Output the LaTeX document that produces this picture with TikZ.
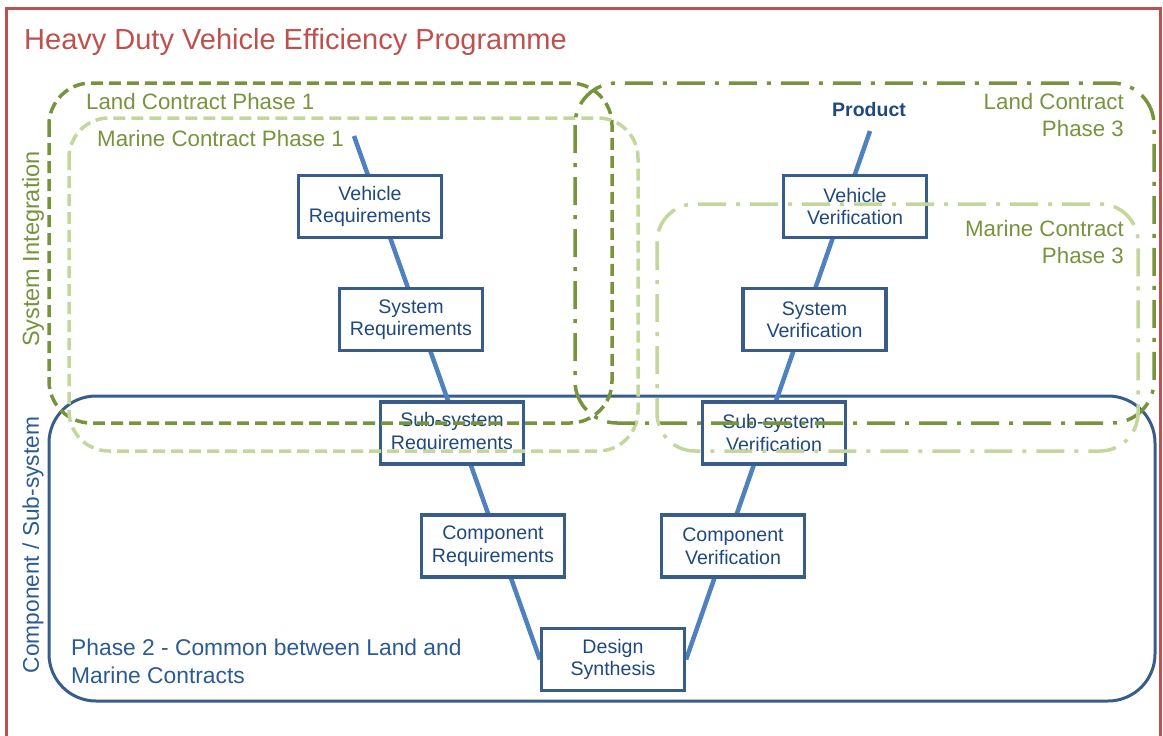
\documentclass[tikz,border=0pt]{standalone}
\usepackage{fontspec}
\setmainfont{Liberation Sans}
\usetikzlibrary{backgrounds}
\definecolor{frame}{HTML}{C0504D}
\definecolor{olivedk}{HTML}{77933C}
\definecolor{olivelt}{HTML}{C3D69B}
\definecolor{boxblue}{HTML}{385D8A}
\definecolor{textblue}{HTML}{1F497D}
\definecolor{lineblue}{HTML}{4F81BD}
\definecolor{labblue}{HTML}{2C5A94}
\begin{document}
\begin{tikzpicture}[x=1pt,y=-1pt,
  vbox/.style={draw=boxblue, line width=3.2pt, fill=white, minimum width=143pt,
    minimum height=62pt, inner sep=0pt, align=center, text=textblue,
    font=\fontsize{19.6}{22.5}\selectfont},
  vline/.style={draw=lineblue, line width=4.5pt},
  landone/.style={draw=olivedk, line width=3.5pt, dash pattern=on 12pt off 6pt, rounded corners=42pt},
  marineone/.style={draw=olivelt, line width=3.5pt, dash pattern=on 12pt off 6pt, rounded corners=40pt},
  landthree/.style={draw=olivedk, line width=3.5pt, dash pattern=on 28pt off 10pt on 4pt off 10pt, rounded corners=42pt},
  marinethree/.style={draw=olivelt, line width=3.5pt, dash pattern=on 28pt off 10pt on 4pt off 10pt, rounded corners=38pt},
  contlabel/.style={text=olivedk, font=\fontsize{22.3}{27}\selectfont, inner sep=0pt},
  sidelabel/.style={rotate=90, inner sep=0pt}
]
\useasboundingbox (0,0) rectangle (1163,736);
% title
\node[anchor=west, text=frame, font=\fontsize{29}{33}\selectfont, inner sep=0pt] (title) at (24,42) {Heavy Duty Vehicle Efficiency Programme};
% side labels
\node[sidelabel, text=olivedk, font=\fontsize{23.5}{26}\selectfont] (si) at (33,249) {System Integration};
\node[sidelabel, text=labblue, font=\fontsize{22.7}{26}\selectfont] (cs) at (33,545) {Component / Sub-system};
% phase 2 text
\node[anchor=west, align=left, text=labblue, font=\fontsize{22.8}{28}\selectfont, inner sep=0pt] (p2) at (71,661) {Phase 2 - Common between Land and\\Marine Contracts};
% product label and start of left leg
\node[text=textblue, font=\bfseries\fontsize{19.5}{22}\selectfont, inner sep=0pt] (prod) at (869,110) {Product};
\coordinate (ls) at (354,136);
\coordinate (rs) at (870,131);
% V boxes
\node[vbox] (vr) at (370,206.5) {Vehicle\\Requirements};
\node[vbox] (sr) at (411,319.5) {System\\Requirements};
\node[vbox] (ssr) at (452,433) {Sub-system\\Requirements};
\node[vbox] (cr) at (493,546) {Component\\Requirements};
\node[vbox] (ds) at (613,659.5) {Design\\Synthesis};
\node[vbox] (cv) at (733,546) {Component\\Verification};
\node[vbox] (ssv) at (774,433) {Sub-system\\Verification};
\node[vbox] (sv) at (814.5,319.5) {System\\Verification};
\node[vbox] (vv) at (855,206.5) {Vehicle\\Verification};
% frame, phase 2 region and V legs behind the boxes
\begin{pgfonlayer}{background}
\draw[frame, line width=3pt] (6,8) rectangle (1160,780);
\draw[boxblue, line width=3pt, rounded corners=47pt] (49,396) rectangle (1155,701);
\draw[vline] (ls) -- (ds.west);
\draw[vline] (rs) -- (ds.east);
\end{pgfonlayer}
% contract regions
\draw[landone] (49,83) rectangle (612,423);
\draw[marineone] (69,118) rectangle (638,451);
\draw[landthree] (575,83) rectangle (1154,423);
\draw[marinethree] (657,204) rectangle (1138,451);
% contract labels
\node[contlabel, anchor=west] (l1) at (86,102) {Land Contract Phase 1};
\node[contlabel, anchor=west] (m1) at (97,139) {Marine Contract Phase 1};
\node[contlabel, anchor=east, align=right] (l3) at (1124,115) {Land Contract\\Phase 3};
\node[contlabel, anchor=east, align=right] (m3) at (1124,242) {Marine Contract\\Phase 3};
\end{tikzpicture}
\end{document}
